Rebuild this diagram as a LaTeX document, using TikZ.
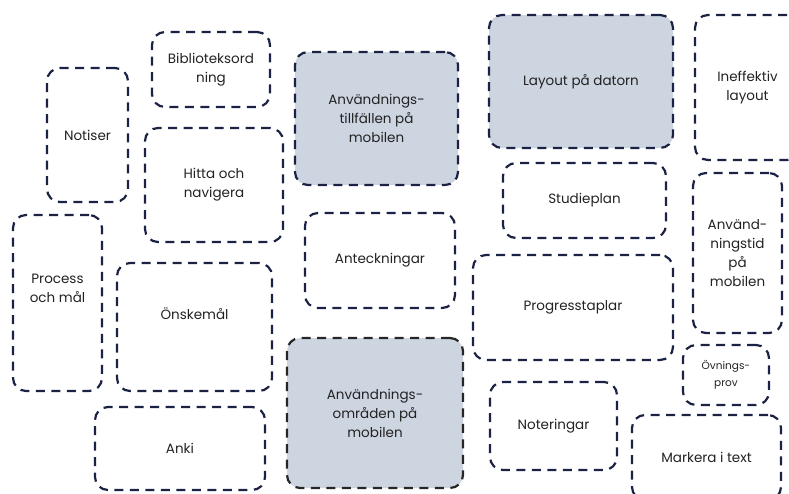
\documentclass[tikz,border=0pt]{standalone}
\usepackage{fontspec}
\setmainfont{Poppins}
\definecolor{navy}{HTML}{1B2244}
\definecolor{boxfill}{HTML}{CDD5E1}
\definecolor{txt}{HTML}{222222}
\tikzset{
  box/.style={draw=navy, line width=2.2pt, dash pattern=on 9pt off 6.5pt, rounded corners=13pt,
    align=center, text=txt, font=\fontsize{13.5}{19}\selectfont, inner sep=2pt},
  filled/.style={box, fill=boxfill},
  smallbox/.style={box, font=\fontsize{10.5}{17}\selectfont}
}
\begin{document}
\begin{tikzpicture}[x=1pt,y=1pt]
\path[use as bounding box] (0,0) rectangle (789,-493);
\clip (0,0) rectangle (789,-493);
\node[box, minimum width=118, minimum height=75] (bib) at (211,-69.5) {Biblioteksord\\ning};
\node[box, minimum width=81, minimum height=134] (notiser) at (87.5,-135) {Notiser};
\node[box, minimum width=138, minimum height=114] (hitta) at (214,-185) {Hitta och\\navigera};
\node[box, minimum width=89, minimum height=176] (process) at (57.5,-303) {Process\\och mål\\[10pt]};
\node[box, minimum width=155, minimum height=128] (onske) at (194.5,-327) {Önskemål\\[8pt]};
\node[box, minimum width=170, minimum height=83] (anki) at (180,-448.5) {Anki};
\node[filled, minimum width=163, minimum height=133] (tillf) at (376.5,-118.5) {Användnings-\\tillfällen på\\mobilen};
\node[box, minimum width=150, minimum height=95] (antec) at (380,-260.5) {Anteckningar};
\node[filled, draw=black!85, minimum width=176, minimum height=150] (omr) at (375,-413) {Användnings-\\områden på\\mobilen};
\node[filled, minimum width=184, minimum height=133] (layout) at (581,-81.5) {Layout på datorn};
\node[box, minimum width=163, minimum height=75] (studie) at (584.5,-200.5) {Studieplan};
\node[box, minimum width=105, minimum height=145] (ineff) at (747.5,-87.5) {Ineffektiv\\layout};
\node[box, minimum width=89, minimum height=160] (anvtid) at (737.5,-253) {Använd-\\ningstid\\på\\mobilen};
\node[box, minimum width=200, minimum height=105] (progress) at (573,-307.5) {Progresstaplar};
\node[smallbox, minimum width=86, minimum height=60] (ovn) at (726,-375) {Övnings-\\prov};
\node[box, minimum width=127, minimum height=88] (noter) at (553.5,-426) {Noteringar};
\node[box, minimum width=149, minimum height=85] (markera) at (706.5,-457.5) {Markera i text};
\end{tikzpicture}
\end{document}
